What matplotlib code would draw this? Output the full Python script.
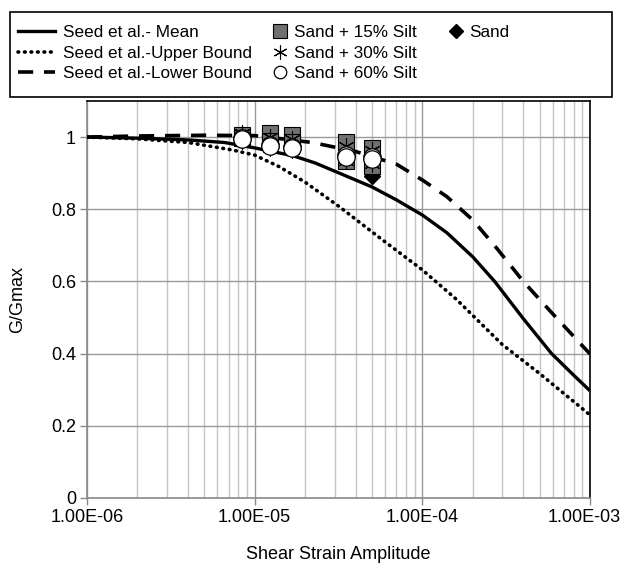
import numpy as np
import matplotlib.pyplot as plt
import matplotlib.transforms as mtransforms
from matplotlib.lines import Line2D
from matplotlib.patches import Rectangle
from matplotlib.ticker import LogLocator, NullFormatter, FixedLocator

plt.rcParams['font.family'] = ['Liberation Sans', 'DejaVu Sans']

# Seed et al. curves
mean_strain = [1e-6, 2e-6, 4e-6, 6.6e-6, 1e-5, 1.7e-5, 2.3e-5, 3.2e-5, 5e-5, 7e-5,
               1e-4, 1.4e-4, 2e-4, 2.7e-4, 4e-4, 5.9e-4, 8e-4, 1e-3]
mean_g = [1.0, 0.997, 0.992, 0.985, 0.97, 0.948, 0.928, 0.9, 0.862, 0.826,
          0.784, 0.735, 0.668, 0.6, 0.497, 0.4, 0.34, 0.297]

upper_strain = [1e-6, 2e-6, 4e-6, 7.4e-6, 1e-5, 1.4e-5, 2e-5, 3.2e-5, 5.6e-5,
                1e-4, 1.6e-4, 3e-4, 5e-4, 1e-3]
upper_g = [1.0, 0.995, 0.985, 0.964, 0.95, 0.918, 0.875, 0.807, 0.72,
           0.632, 0.55, 0.425, 0.345, 0.23]

lower_strain = [1e-6, 2e-6, 5e-6, 1e-5, 2.2e-5, 4e-5, 7e-5, 1e-4, 1.4e-4,
                2e-4, 2.8e-4, 4e-4, 6e-4, 1e-3]
lower_g = [1.0, 1.003, 1.005, 1.004, 0.985, 0.96, 0.925, 0.881, 0.835,
           0.77, 0.69, 0.6, 0.51, 0.399]

# test results, two readings per strain level
test_strain = [8.4e-6, 1.23e-5, 1.67e-5, 3.5e-5, 5.0e-5]
sand_hi = [0.998, 0.99, 0.985, 0.955, 0.93]
sand_lo = [0.993, 0.98, 0.975, 0.94, 0.893]
silt15_hi = [1.005, 1.01, 1.005, 0.985, 0.97]
silt15_lo = [0.998, 0.99, 0.985, 0.935, 0.92]
silt30_hi = [1.012, 1.0, 0.995, 0.975, 0.965]
silt30_lo = [0.99, 0.97, 0.965, 0.935, 0.925]
silt60_hi = [0.998, 0.978, 0.973, 0.95, 0.945]
silt60_lo = [0.995, 0.975, 0.97, 0.945, 0.94]

fig = plt.figure(figsize=(6.25, 5.65), dpi=100)
ax = fig.add_axes([0.1392, 0.1186, 0.8048, 0.7027])

ax.plot(mean_strain, mean_g, color='black', lw=2.4, solid_capstyle='butt', zorder=3)
ax.plot(upper_strain, upper_g, color='black', lw=2.6, linestyle=(0, (0.2, 1.6)),
        dash_capstyle='round', zorder=3)
ax.plot(lower_strain, lower_g, color='black', lw=2.6, linestyle=(0, (4.2, 3.0)),
        zorder=3)

for ys in (sand_hi, sand_lo):
    ax.plot(test_strain, ys, linestyle='none', marker='D', ms=8.5, mfc='black',
            mec='black', zorder=4)
for ys in (silt15_hi, silt15_lo):
    ax.plot(test_strain, ys, linestyle='none', marker='s', ms=11.5, mfc='#707070',
            mec='black', mew=0.8, zorder=5)
for ys in (silt30_hi, silt30_lo):
    ax.plot(test_strain, ys, linestyle='none', marker=(6, 2, 0), ms=11.5,
            mec='black', mew=0.8, zorder=6)
for ys in (silt60_hi, silt60_lo):
    ax.plot(test_strain, ys, linestyle='none', marker='o', ms=12.5, mfc='white',
            mec='black', mew=0.9, zorder=7)

ax.set_xscale('log')
ax.set_xlim(1e-6, 1e-3)
ax.set_ylim(0, 1.1)
ax.set_xticks([1e-6, 1e-5, 1e-4, 1e-3])
ax.set_xticklabels(['1.00E-06', '1.00E-05', '1.00E-04', '1.00E-03'])
ax.xaxis.set_minor_locator(LogLocator(base=10, subs=np.arange(2, 10)))
ax.xaxis.set_minor_formatter(NullFormatter())
ax.yaxis.set_major_locator(FixedLocator([0, 0.2, 0.4, 0.6, 0.8, 1.0]))
ax.set_yticklabels(['0', '0.2', '0.4', '0.6', '0.8', '1'])

ax.grid(True, which='major', axis='both', color='#9a9a9a', lw=1.0)
ax.grid(True, which='minor', axis='x', color='#c4c4c4', lw=1.0)
ax.set_axisbelow(True)

ax.tick_params(axis='both', which='major', labelsize=13, length=5, width=1,
               color='#8a8a8a', pad=3)
ax.tick_params(axis='x', which='minor', length=0)
for side in ('left', 'bottom'):
    ax.spines[side].set_color('#8a8a8a')
for side in ('top', 'right'):
    ax.spines[side].set_color('black')
for s in ax.spines.values():
    s.set_linewidth(1.2)

# keep the last x label inside the picture
last = ax.get_xticklabels()[-1]
last.set_transform(last.get_transform() +
                   mtransforms.ScaledTranslation(-4 / 72, 0, fig.dpi_scale_trans))

ax.set_xlabel('Shear Strain Amplitude', fontsize=13, labelpad=14)
ax.set_ylabel('G/Gmax', fontsize=13, labelpad=18)

# legend box
fig.patches.append(Rectangle((0.016, 0.828), 0.963, 0.150, transform=fig.transFigure,
                             fill=False, edgecolor='black', lw=1.2))

line_handles = [
    Line2D([], [], color='black', lw=2.4),
    Line2D([], [], color='black', lw=2.6, linestyle=(0, (0.2, 1.6)), dash_capstyle='round'),
    Line2D([], [], color='black', lw=2.6, linestyle=(0, (4.2, 3.0))),
]
line_labels = ['Seed et al.- Mean', 'Seed et al.-Upper Bound', 'Seed et al.-Lower Bound']
fig.legend(line_handles, line_labels, loc='upper left',
           bbox_to_anchor=(0.028, 0.955), frameon=False, fontsize=12.3,
           handlelength=2.2, handletextpad=0.45, labelspacing=0.3,
           borderaxespad=0, borderpad=0)

blank = Line2D([], [], linestyle='none')
mark_handles = [
    Line2D([], [], linestyle='none', marker='s', ms=10, mfc='#707070', mec='black', mew=0.8),
    Line2D([], [], linestyle='none', marker=(6, 2, 0), ms=10, mec='black', mew=0.8),
    Line2D([], [], linestyle='none', marker='o', ms=9, mfc='white', mec='black', mew=0.9),
    Line2D([], [], linestyle='none', marker='D', ms=7.5, mfc='black', mec='black'),
    blank, blank,
]
mark_labels = ['Sand + 15% Silt', 'Sand + 30% Silt', 'Sand + 60% Silt', 'Sand', '', '']
fig.legend(mark_handles, mark_labels, loc='upper left', ncol=2,
           bbox_to_anchor=(0.437, 0.955), frameon=False, fontsize=12.3,
           handlelength=0.8, handletextpad=0.4, labelspacing=0.3,
           columnspacing=1.9, borderaxespad=0, borderpad=0)

fig.savefig('out.png', dpi=100)
